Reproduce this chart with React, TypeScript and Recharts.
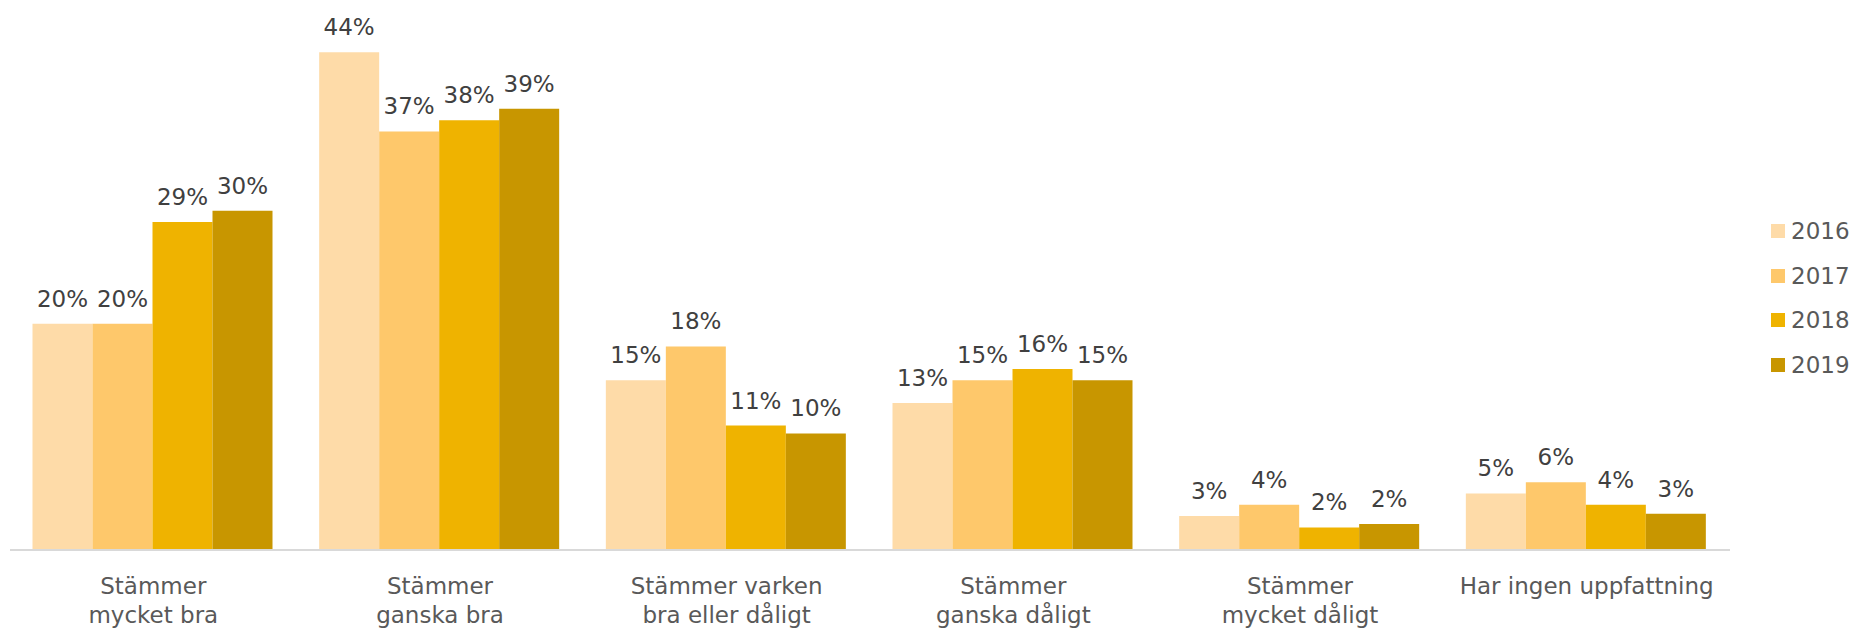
import { BarChart, Bar, XAxis, YAxis, Legend, LabelList } from "recharts";

const categories = [
  "Stämmer\nmycket bra",
  "Stämmer\nganska bra",
  "Stämmer varken\nbra eller dåligt",
  "Stämmer\nganska dåligt",
  "Stämmer\nmycket dåligt",
  "Har ingen uppfattning",
];

const years = ["2016", "2017", "2018", "2019"];
const colors = ["#FEDBA8", "#FEC86B", "#EFB300", "#C89600"];

const values2016 = [20, 44, 15, 13, 3, 5];
const values2017 = [20, 37, 18, 15, 4, 6];
const values2018 = [29, 38, 11, 16, 2, 4];
const values2019 = [30, 39, 10.3, 15, 2.3, 3.2];

const series = [values2016, values2017, values2018, values2019];

// one row per category for recharts
const data = categories.map((name, i) => {
  const row: Record<string, string | number> = { name };
  years.forEach((y, s) => {
    row[y] = series[s][i];
  });
  return row;
});

const FONT = "'DejaVu Sans', Verdana, sans-serif";

const CategoryTick = (props: any) => {
  const { x, y, payload } = props;
  const lines = String(payload.value).split("\n");
  return (
    <text
      x={x}
      y={y + 44}
      textAnchor="middle"
      fill="#595959"
      fontSize={23}
      fontFamily={FONT}
    >
      {lines.map((line, i) => (
        <tspan key={i} x={x} dy={i === 0 ? 0 : 29}>
          {line}
        </tspan>
      ))}
    </text>
  );
};

const YearLegend = () => (
  <div style={{ fontFamily: FONT }}>
    {years.map((y, i) => (
      <div
        key={y}
        style={{ display: "flex", alignItems: "center", height: 44.6 }}
      >
        <span
          style={{
            width: 14,
            height: 14,
            background: colors[i],
            marginRight: 6,
            display: "inline-block",
          }}
        />
        <span style={{ fontSize: 23, color: "#595959" }}>{y}</span>
      </div>
    ))}
  </div>
);

export default function App() {
  return (
    <div style={{ position: "absolute", left: 0, top: 0 }}>
      <BarChart
        width={1854}
        height={628}
        data={data}
        margin={{ top: 7, right: 24, bottom: 0, left: 10 }}
        barCategoryGap="7.85%"
        barGap={0}
      >
        <XAxis
          dataKey="name"
          height={78}
          interval={0}
          tickLine={false}
          tickSize={0}
          tickMargin={0}
          axisLine={{ stroke: "#D9D9D9", strokeWidth: 2 }}
          tick={<CategoryTick />}
        />
        <YAxis hide domain={[0, 48]} />
        <Legend
          layout="vertical"
          align="right"
          verticalAlign="middle"
          content={<YearLegend />}
          wrapperStyle={{ width: 100, left: 1771, top: 208.7 }}
        />
        {years.map((y, i) => (
          <Bar key={y} dataKey={y} fill={colors[i]} isAnimationActive={false}>
            <LabelList
              dataKey={y}
              position="top"
              offset={17}
              fill="#404040"
              fontSize={23}
              fontFamily={FONT}
              formatter={(v: any) => `${Math.round(Number(v))}%`}
            />
          </Bar>
        ))}
      </BarChart>
    </div>
  );
}
